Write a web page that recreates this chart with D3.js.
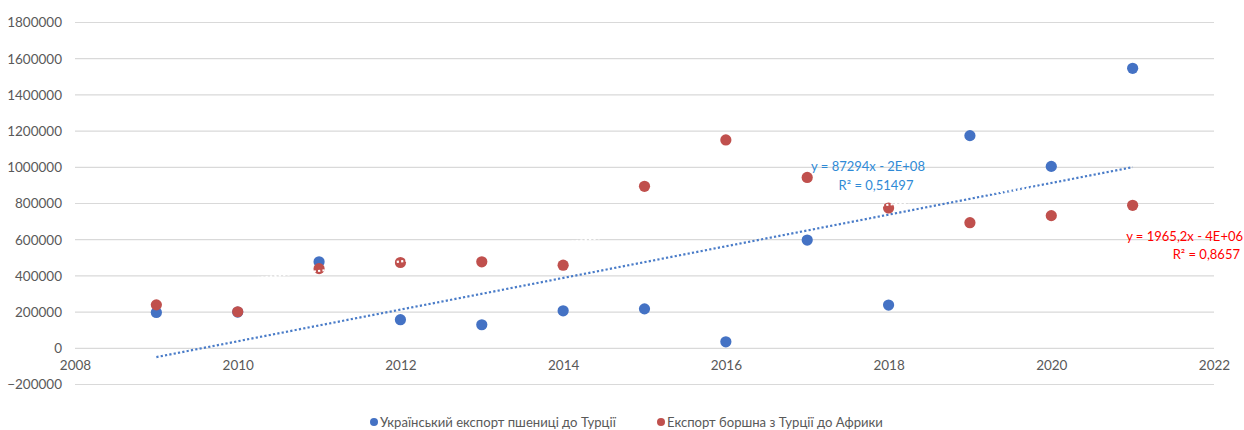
<!DOCTYPE html>
<html>
<head>
<meta charset="utf-8">
<script src="https://cdn.jsdelivr.net/npm/d3@7/dist/d3.min.js"></script>
<style>
  html, body { margin: 0; padding: 0; background: #fff; }
  svg { display: block; }
  text { font-family: Lato, "Open Sans", "Liberation Sans", sans-serif; }
</style>
</head>
<body>
<svg id="chart" width="1244" height="430"></svg>
<script>
// Years on the x axis
const years = [2009, 2010, 2011, 2012, 2013, 2014, 2015, 2016, 2017, 2018, 2019, 2020, 2021];
// Ukrainian wheat exports to Turkey
const wheatToTurkey = [198000, 200000, 478000, 158000, 130000, 207000, 218000, 36000, 598000, 239000, 1175000, 1005000, 1547000];
// Flour exports from Turkey to Africa
const flourToAfrica = [240000, 202000, 440000, 474000, 478000, 459000, 895000, 1151000, 944000, 775000, 694000, 733000, 790000];

const seriesNames = ["Український експорт пшениці до Турції", "Експорт боршна з Турції до Африки"];
const xTicks = [2008, 2010, 2012, 2014, 2016, 2018, 2020, 2022];
const yTicks = [-200000, 0, 200000, 400000, 600000, 800000, 1000000, 1200000, 1400000, 1600000, 1800000];
const trendLabelsBlue = ["y = 87294x - 2E+08", "R² = 0,51497"];
const trendLabelsRed = ["y = 1965,2x - 4E+06", "R² = 0,8657"];

const svg = d3.select("#chart");
const x = d3.scaleLinear().domain([2008, 2022]).range([75, 1214]);
const y = d3.scaleLinear().domain([-200000, 1800000]).range([384.5, 22.5]);

const gray = "#595959";

// horizontal gridlines
svg.append("g")
  .selectAll("line")
  .data(yTicks)
  .join("line")
  .attr("x1", x(2008)).attr("x2", x(2022))
  .attr("y1", d => y(d)).attr("y2", d => y(d))
  .attr("stroke", "#d9d9d9").attr("stroke-width", 1.2);

// y axis labels
const yAxis = d3.axisLeft(y).tickValues(yTicks).tickSize(0).tickPadding(13).tickFormat(d3.format("d"));
svg.append("g").attr("transform", `translate(${x(2008)},0)`).call(yAxis)
  .call(g => g.select(".domain").remove())
  .call(g => g.selectAll("text").attr("fill", gray).attr("font-size", 13.5)
    .attr("font-family", "Lato, 'Open Sans', sans-serif"));

// x axis labels, placed under the zero line
const xAxis = d3.axisBottom(x).tickValues(xTicks).tickSize(0).tickPadding(12).tickFormat(d3.format("d"));
svg.append("g").attr("transform", `translate(0,${y(0)})`).call(xAxis)
  .call(g => g.select(".domain").remove())
  .call(g => g.selectAll("text").attr("fill", gray).attr("font-size", 13.5)
    .attr("font-family", "Lato, 'Open Sans', sans-serif"));

// least-squares fit
function linearFit(xs, ys) {
  const n = xs.length;
  const mx = d3.mean(xs), my = d3.mean(ys);
  let sxy = 0, sxx = 0;
  for (let i = 0; i < n; i++) { sxy += (xs[i] - mx) * (ys[i] - my); sxx += (xs[i] - mx) ** 2; }
  const b = sxy / sxx;
  return v => my + b * (v - mx);
}

const blueColor = "#4472c4";
const redColor = "#c0504d";

const blueFit = linearFit(years, wheatToTurkey);
const redFit = linearFit(years, flourToAfrica);
const x0 = d3.min(years), x1 = d3.max(years);

// blue series trendline (dotted)
svg.append("line")
  .attr("x1", x(x0)).attr("y1", y(blueFit(x0)))
  .attr("x2", x(x1)).attr("y2", y(blueFit(x1)))
  .attr("stroke", "#4a7cc8").attr("stroke-width", 2.2)
  .attr("stroke-dasharray", "2.2,2.2");

// blue markers
svg.append("g").selectAll("circle")
  .data(years.map((yr, i) => [yr, wheatToTurkey[i]]))
  .join("circle")
  .attr("cx", d => x(d[0])).attr("cy", d => y(d[1])).attr("r", 5.6)
  .attr("fill", blueColor);

// red markers
svg.append("g").selectAll("circle")
  .data(years.map((yr, i) => [yr, flourToAfrica[i]]))
  .join("circle")
  .attr("cx", d => x(d[0])).attr("cy", d => y(d[1])).attr("r", 5.6)
  .attr("fill", redColor);

// red series trendline, drawn in white
svg.append("line")
  .attr("x1", x(x0)).attr("y1", y(redFit(x0)))
  .attr("x2", x(x1)).attr("y2", y(redFit(x1)))
  .attr("stroke", "#ffffff").attr("stroke-width", 2.2)
  .attr("stroke-dasharray", "2.2,2.2");

// trendline equations
const eqBlue = svg.append("g").attr("fill", "#2f8ad6").attr("font-size", 13).attr("text-anchor", "middle");
eqBlue.append("text").attr("x", 868).attr("y", 171).text(trendLabelsBlue[0]);
eqBlue.append("text").attr("x", 876).attr("y", 190).text(trendLabelsBlue[1]);

const eqRed = svg.append("g").attr("fill", "#ff0000").attr("font-size", 13).attr("text-anchor", "end");
eqRed.append("text").attr("x", 1243).attr("y", 241).text(trendLabelsRed[0]);
eqRed.append("text").attr("x", 1240).attr("y", 259).text(trendLabelsRed[1]);

// legend
const legend = svg.append("g").attr("font-size", 13.1).attr("fill", gray);
const legendItems = [
  { name: seriesNames[0], color: blueColor, cx: 374 },
  { name: seriesNames[1], color: redColor, cx: 661 }
];
legendItems.forEach(it => {
  legend.append("circle").attr("cx", it.cx).attr("cy", 422).attr("r", 4).attr("fill", it.color);
  legend.append("text").attr("x", it.cx + 6).attr("y", 426.5).attr("fill", gray).text(it.name);
});
</script>
</body>
</html>
